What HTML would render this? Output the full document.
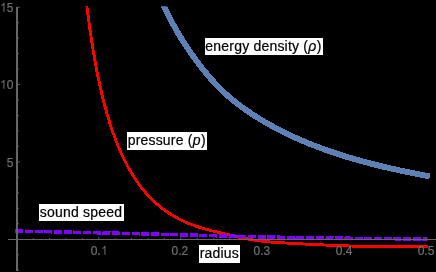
<!DOCTYPE html>
<html><head><meta charset="utf-8">
<style>
html,body{margin:0;padding:0;background:#000;}
body{width:436px;height:272px;position:relative;overflow:hidden;font-family:"Liberation Sans",sans-serif;}
#g{position:absolute;left:0;top:0;}
.tl{position:absolute;color:#707070;font-size:12px;line-height:14px;height:14px;letter-spacing:0;white-space:nowrap;-webkit-text-stroke:0.2px #707070;transform:scaleY(1.047);}
.yl{left:0;width:13.4px;text-align:right;}
.xl{top:243.76px;width:40px;text-align:center;}
.lb{position:absolute;background:#fff;color:#000;font-size:14px;line-height:17px;height:17px;white-space:nowrap;letter-spacing:0.2px;box-sizing:border-box;padding-left:0.75px;overflow:hidden;-webkit-text-stroke:0.2px #000;}
.lb i{font-style:italic;letter-spacing:0.5px;}
.one{width:0.556em;height:0.719em;vertical-align:baseline;display:inline-block;}
</style></head><body>
<svg id="g" width="436" height="272" viewBox="0 0 436 272">
<rect width="436" height="272" fill="#000"/>
<clipPath id="c"><rect x="0" y="6.2" width="436" height="266"/></clipPath>
<g clip-path="url(#c)" shape-rendering="crispEdges">
<path d="M155.80,-12.48 L156.56,-10.63 L157.32,-8.80 L158.08,-6.99 L158.85,-5.19 L159.63,-3.40 L160.41,-1.63 L161.19,0.13 L161.98,1.87 L162.77,3.60 L163.56,5.32 L164.36,7.02 L165.17,8.71 L165.97,10.39 L166.79,12.05 L167.60,13.70 L168.42,15.34 L169.25,16.96 L170.08,18.58 L170.91,20.18 L171.75,21.76 L172.59,23.34 L173.44,24.90 L174.29,26.45 L175.15,27.99 L176.01,29.51 L176.87,31.03 L177.74,32.53 L178.62,34.02 L179.50,35.50 L180.38,36.96 L181.27,38.42 L182.16,39.86 L183.06,41.30 L183.96,42.72 L184.87,44.13 L185.78,45.53 L186.70,46.92 L187.62,48.30 L188.55,49.66 L189.48,51.02 L190.42,52.37 L191.36,53.70 L192.31,55.03 L193.25,56.35 L194.20,57.65 L195.14,58.95 L196.07,60.23 L197.01,61.51 L197.95,62.77 L198.89,64.03 L199.83,65.27 L200.77,66.51 L201.71,67.74 L202.66,68.95 L203.62,70.16 L204.58,71.36 L205.55,72.55 L206.53,73.73 L207.51,74.90 L208.51,76.07 L209.51,77.22 L210.52,78.36 L211.54,79.50 L212.56,80.63 L213.59,81.75 L214.62,82.85 L215.65,83.96 L216.69,85.05 L217.73,86.13 L218.79,87.21 L219.85,88.28 L220.92,89.34 L221.99,90.39 L223.08,91.44 L224.18,92.47 L225.28,93.50 L226.40,94.52 L227.52,95.53 L228.66,96.54 L229.81,97.53 L230.97,98.52 L232.15,99.51 L233.33,100.48 L234.53,101.45 L235.74,102.41 L236.96,103.36 L238.19,104.31 L239.43,105.24 L240.68,106.18 L241.94,107.10 L243.21,108.02 L244.48,108.93 L245.77,109.83 L247.06,110.73 L248.36,111.62 L249.67,112.50 L250.98,113.38 L252.30,114.25 L253.62,115.11 L254.95,115.97 L256.29,116.82 L257.63,117.66 L258.98,118.50 L260.34,119.33 L261.70,120.16 L263.08,120.98 L264.46,121.79 L265.85,122.60 L267.25,123.40 L268.65,124.19 L270.07,124.98 L271.49,125.76 L272.91,126.54 L274.35,127.31 L275.79,128.08 L277.23,128.84 L278.68,129.59 L280.14,130.34 L281.60,131.08 L283.07,131.82 L284.54,132.55 L286.02,133.28 L287.50,134.00 L288.99,134.72 L290.48,135.43 L291.98,136.13 L293.49,136.83 L295.01,137.53 L296.53,138.22 L298.07,138.90 L299.61,139.58 L301.16,140.26 L302.72,140.93 L304.29,141.59 L305.86,142.25 L307.45,142.90 L309.04,143.55 L310.65,144.20 L312.26,144.84 L313.88,145.48 L315.51,146.11 L317.14,146.73 L318.79,147.36 L320.45,147.97 L322.11,148.59 L323.79,149.19 L325.47,149.80 L327.16,150.40 L328.86,150.99 L330.57,151.58 L332.29,152.17 L334.02,152.75 L335.76,153.33 L337.51,153.90 L339.27,154.47 L341.04,155.04 L342.82,155.60 L344.61,156.15 L346.40,156.71 L348.21,157.26 L350.03,157.80 L351.86,158.34 L353.69,158.88 L355.54,159.41 L357.40,159.94 L359.26,160.47 L361.14,160.99 L363.03,161.51 L364.93,162.02 L366.84,162.53 L368.76,163.04 L370.69,163.54 L372.63,164.04 L374.58,164.54 L376.54,165.03 L378.52,165.52 L380.50,166.00 L382.49,166.48 L384.50,166.96 L386.52,167.44 L388.54,167.91 L390.58,168.37 L392.63,168.84 L394.69,169.30 L396.76,169.76 L398.85,170.21 L400.94,170.66 L403.05,171.11 L405.17,171.56 L407.30,172.00 L409.44,172.44 L411.59,172.87 L413.76,173.30 L415.93,173.73 L418.12,174.16 L420.32,174.58 L422.54,175.00 L424.76,175.42 L427.00,175.83" fill="none" stroke="#5e81b5" stroke-width="5.9" stroke-linejoin="round" stroke-linecap="square"/>
<path d="M84.00,-19.67 L84.18,-17.95 L84.36,-16.22 L84.54,-14.50 L84.73,-12.78 L84.91,-11.05 L85.10,-9.33 L85.29,-7.61 L85.48,-5.89 L85.68,-4.16 L85.88,-2.44 L86.07,-0.72 L86.28,1.00 L86.48,2.72 L86.68,4.44 L86.89,6.16 L87.10,7.88 L87.32,9.60 L87.53,11.32 L87.75,13.04 L87.97,14.76 L88.19,16.48 L88.41,18.20 L88.64,19.92 L88.87,21.64 L89.11,23.35 L89.34,25.07 L89.58,26.79 L89.82,28.50 L90.06,30.22 L90.31,31.93 L90.56,33.65 L90.81,35.36 L91.07,37.08 L91.33,38.79 L91.59,40.50 L91.86,42.22 L92.13,43.93 L92.40,45.64 L92.68,47.35 L92.95,49.06 L93.24,50.77 L93.52,52.48 L93.81,54.19 L94.11,55.90 L94.41,57.61 L94.71,59.31 L95.01,61.02 L95.32,62.72 L95.64,64.43 L95.95,66.13 L96.28,67.83 L96.60,69.54 L96.93,71.24 L97.27,72.94 L97.61,74.64 L97.95,76.34 L98.30,78.03 L98.66,79.73 L99.01,81.43 L99.38,83.12 L99.75,84.81 L100.12,86.51 L100.50,88.20 L100.89,89.89 L101.28,91.57 L101.67,93.26 L102.08,94.95 L102.48,96.63 L102.90,98.31 L103.32,100.00 L103.74,101.68 L104.18,103.35 L104.62,105.03 L105.06,106.71 L105.52,108.38 L105.98,110.05 L106.44,111.72 L106.92,113.39 L107.40,115.05 L107.89,116.71 L108.38,118.37 L108.89,120.03 L109.40,121.69 L109.92,123.34 L110.45,124.99 L110.98,126.64 L111.53,128.28 L112.09,129.93 L112.65,131.56 L113.22,133.20 L113.81,134.83 L114.40,136.46 L115.00,138.09 L115.61,139.71 L116.24,141.33 L116.87,142.94 L117.51,144.55 L118.17,146.15 L118.83,147.75 L119.51,149.35 L120.20,150.94 L120.90,152.52 L121.62,154.10 L122.34,155.68 L123.08,157.24 L123.83,158.81 L124.60,160.36 L125.38,161.91 L126.17,163.45 L126.97,164.98 L127.79,166.51 L128.63,168.03 L129.48,169.54 L130.34,171.04 L131.23,172.53 L132.12,174.02 L133.03,175.49 L133.96,176.96 L134.91,178.41 L135.87,179.85 L136.85,181.28 L137.84,182.70 L138.85,184.11 L139.88,185.50 L140.93,186.88 L142.00,188.25 L143.08,189.60 L144.18,190.94 L145.30,192.27 L146.44,193.57 L147.59,194.87 L148.76,196.14 L149.96,197.40 L151.17,198.64 L152.39,199.86 L153.64,201.07 L154.90,202.27 L156.18,203.43 L157.50,204.55 L158.83,205.66 L160.18,206.75 L161.55,207.83 L162.93,208.90 L164.32,209.94 L165.73,210.96 L167.15,211.94 L168.59,212.90 L170.04,213.83 L171.51,214.73 L172.99,215.61 L174.49,216.48 L176.01,217.34 L177.54,218.17 L179.08,218.99 L180.63,219.79 L182.19,220.56 L183.76,221.31 L185.34,222.03 L186.92,222.72 L188.51,223.39 L190.11,224.03 L191.72,224.65 L193.34,225.25 L194.98,225.83 L196.62,226.40 L198.27,226.95 L199.93,227.48 L201.59,228.00 L203.25,228.50 L204.92,228.99 L206.58,229.47 L208.25,229.92 L209.92,230.36 L211.60,230.79 L213.28,231.20 L214.97,231.59 L216.66,231.99 L218.35,232.37 L220.04,232.76 L221.74,233.14 L223.43,233.53 L225.11,233.93 L226.80,234.33 L228.48,234.74 L230.17,235.15 L231.85,235.56 L233.54,235.97 L235.22,236.38 L236.91,236.78 L238.60,237.17 L240.29,237.55 L241.98,237.91 L243.68,238.26 L245.38,238.59 L247.08,238.90 L248.79,239.21 L250.50,239.50 L252.21,239.78 L253.92,240.06 L255.63,240.33 L257.35,240.58 L259.07,240.81 L260.78,241.02 L262.51,241.23 L264.23,241.43 L265.95,241.61 L267.68,241.78 L269.40,241.94 L271.13,242.08 L272.86,242.22 L274.59,242.34 L276.31,242.46 L278.04,242.58 L279.77,242.69 L281.50,242.79 L283.23,242.88 L284.96,242.97 L286.70,243.06 L288.43,243.14 L290.16,243.23 L291.89,243.31 L293.62,243.40 L295.35,243.49 L297.08,243.59 L298.81,243.69 L300.54,243.79 L302.27,243.90 L304.00,244.01 L305.73,244.11 L307.46,244.21 L309.19,244.31 L310.92,244.40 L312.65,244.48 L314.38,244.56 L316.12,244.64 L317.85,244.71 L319.58,244.79 L321.31,244.86 L323.04,244.93 L324.77,245.00 L326.51,245.06 L328.24,245.13 L329.97,245.20 L331.70,245.27 L333.43,245.34 L335.16,245.41 L336.90,245.48 L338.63,245.55 L340.36,245.63 L342.09,245.70 L343.82,245.77 L345.55,245.84 L347.29,245.91 L349.02,245.97 L350.75,246.02 L352.48,246.08 L354.21,246.14 L355.95,246.19 L357.68,246.25 L359.41,246.29 L361.14,246.34 L362.88,246.37 L364.61,246.40 L366.34,246.41 L368.08,246.43 L369.81,246.45 L371.54,246.46 L373.27,246.48 L375.01,246.49 L376.74,246.49 L378.47,246.50 L380.21,246.50 L381.94,246.50 L383.67,246.50 L385.41,246.50 L387.14,246.50 L388.87,246.50 L390.61,246.50 L392.34,246.50 L394.07,246.50 L395.80,246.50 L397.54,246.50 L399.27,246.50 L401.00,246.50 L402.74,246.50 L404.47,246.50 L406.20,246.50 L407.94,246.50 L409.67,246.50 L411.40,246.50 L413.14,246.50 L414.87,246.50 L416.60,246.50 L418.33,246.50 L420.07,246.50 L421.80,246.50 L423.53,246.50 L425.27,246.50 L427.00,246.50" fill="none" stroke="#ff0000" stroke-width="2.9" stroke-linejoin="round" stroke-linecap="square"/>
<path d="M15.20,231.05 L22.18,231.18 L29.16,231.32 L36.14,231.46 L43.12,231.60 L50.10,231.74 L57.08,231.89 L64.06,232.04 L71.04,232.19 L78.02,232.34 L85.00,232.49 L91.98,232.64 L98.96,232.80 L105.93,232.96 L112.91,233.13 L119.89,233.29 L126.87,233.46 L133.85,233.63 L140.83,233.80 L147.81,233.97 L154.79,234.15 L161.77,234.32 L168.75,234.49 L175.72,234.67 L182.70,234.86 L189.68,235.04 L196.66,235.23 L203.64,235.42 L210.62,235.61 L217.60,235.80 L224.58,235.98 L231.55,236.16 L238.53,236.33 L245.51,236.50 L252.49,236.66 L259.47,236.81 L266.45,236.96 L273.43,237.11 L280.41,237.25 L287.39,237.38 L294.37,237.51 L301.35,237.62 L308.33,237.73 L315.31,237.83 L322.29,237.92 L329.27,238.01 L336.25,238.09 L343.23,238.18 L350.21,238.26 L357.19,238.34 L364.17,238.41 L371.16,238.49 L378.14,238.56 L385.12,238.64 L392.10,238.73 L399.08,238.81 L406.06,238.91 L413.04,239.00 L420.02,239.10 L427.00,239.20" fill="none" stroke="#8000ff" stroke-width="3.5" stroke-dasharray="8 1.7" stroke-linejoin="round"/>
</g>
<g fill="#666">
<rect x="16" y="7" width="2" height="264"/>
<rect x="8" y="239" width="428" height="1"/>
<g fill="#585858"><rect x="18" y="269.64" width="1" height="1"/>
<rect x="18" y="254.17" width="1" height="1"/>
<rect x="18" y="223.23" width="1" height="1"/>
<rect x="18" y="207.76" width="1" height="1"/>
<rect x="18" y="192.29" width="1" height="1"/>
<rect x="18" y="176.82" width="1" height="1"/>
<rect x="18" y="161.35" width="2" height="1"/>
<rect x="18" y="145.88" width="1" height="1"/>
<rect x="18" y="130.41" width="1" height="1"/>
<rect x="18" y="114.94" width="1" height="1"/>
<rect x="18" y="99.47" width="1" height="1"/>
<rect x="18" y="84.00" width="2" height="1"/>
<rect x="18" y="68.53" width="1" height="1"/>
<rect x="18" y="53.06" width="1" height="1"/>
<rect x="18" y="37.59" width="1" height="1"/>
<rect x="18" y="22.12" width="1" height="1"/>
<rect x="18" y="6.65" width="2" height="1"/>
<rect x="32.70" y="238" width="1" height="1"/>
<rect x="49.10" y="238" width="1" height="1"/>
<rect x="65.50" y="238" width="1" height="1"/>
<rect x="81.90" y="238" width="1" height="1"/>
<rect x="98.30" y="237" width="1" height="2"/>
<rect x="114.70" y="238" width="1" height="1"/>
<rect x="131.10" y="238" width="1" height="1"/>
<rect x="147.50" y="238" width="1" height="1"/>
<rect x="163.90" y="238" width="1" height="1"/>
<rect x="180.30" y="237" width="1" height="2"/>
<rect x="196.70" y="238" width="1" height="1"/>
<rect x="213.10" y="238" width="1" height="1"/>
<rect x="229.50" y="238" width="1" height="1"/>
<rect x="245.90" y="238" width="1" height="1"/>
<rect x="262.30" y="237" width="1" height="2"/>
<rect x="278.70" y="238" width="1" height="1"/>
<rect x="295.10" y="238" width="1" height="1"/>
<rect x="311.50" y="238" width="1" height="1"/>
<rect x="327.90" y="238" width="1" height="1"/>
<rect x="344.30" y="237" width="1" height="2"/>
<rect x="360.70" y="238" width="1" height="1"/>
<rect x="377.10" y="238" width="1" height="1"/>
<rect x="393.50" y="238" width="1" height="1"/>
<rect x="409.90" y="238" width="1" height="1"/>
<rect x="426.30" y="237" width="1" height="2"/></g>
</g>
</svg>
<div style="position:absolute;left:0;top:0;width:436px;height:272px;will-change:transform;">
<div class="tl yl" style="top:0.51px"><svg class="one" viewBox="0 0 1139 1472"><path fill="currentColor" d="M763,1472 L583,1472 L583,325 Q518,387 412.5,449 Q307,511 223,542 L223,368 Q374,297 487,196 Q600,95 647,0 L763,0 Z"/></svg>5</div>
<div class="tl yl" style="top:77.86px"><svg class="one" viewBox="0 0 1139 1472"><path fill="currentColor" d="M763,1472 L583,1472 L583,325 Q518,387 412.5,449 Q307,511 223,542 L223,368 Q374,297 487,196 Q600,95 647,0 L763,0 Z"/></svg>0</div>
<div class="tl yl" style="top:156.01px">5</div>
<div class="tl xl" style="left:79.00px">0.<svg class="one" viewBox="0 0 1139 1472"><path fill="currentColor" d="M763,1472 L583,1472 L583,325 Q518,387 412.5,449 Q307,511 223,542 L223,368 Q374,297 487,196 Q600,95 647,0 L763,0 Z"/></svg></div>
<div class="tl xl" style="left:159.80px">0.2</div>
<div class="tl xl" style="left:241.80px">0.3</div>
<div class="tl xl" style="left:324.10px">0.4</div>
<div class="tl xl" style="left:406.00px">0.5</div>

<div class="lb" style="left:204.6px;top:38px;width:118.2px;">energy density (<i>ρ</i>)</div>
<div class="lb" style="left:126.9px;top:132.1px;width:80.2px;height:17.6px">pressure (<i>p</i>)</div>
<div class="lb" style="left:39px;top:204px;width:85.1px;">sound speed</div>
<div class="lb" style="left:198.9px;top:245.3px;width:41.6px;height:17.4px">radius</div>
</div>
</body></html>
